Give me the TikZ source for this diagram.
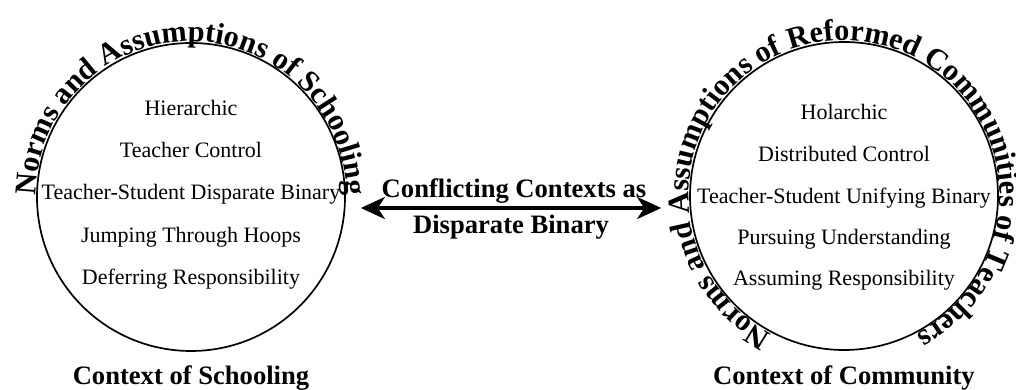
\documentclass[tikz,border=0pt]{standalone}
\usepackage{fontspec}
\setmainfont{Liberation Serif}
\usetikzlibrary{decorations.text, arrows.meta}

\newcommand\itemfont{\fontsize{22}{26}\selectfont}
\newcommand\ctxfont{\fontsize{26.6}{30}\selectfont\bfseries}
\newcommand\ringfont{\fontsize{30.3}{34}\selectfont\bfseries}

\begin{document}
\begin{tikzpicture}[x=1pt,y=1pt,
  ring/.style={circle, draw, line width=1.7pt, minimum size=308pt, inner sep=0pt},
  item/.style={anchor=base, font=\itemfont, inner sep=0pt},
  ctxlabel/.style={anchor=base, font=\ctxfont, inner sep=0pt},
  ringtext/.style={decorate, decoration={text along path, text align=center, text={|\ringfont|#1}}},
  binarrow/.style={{Stealth[length=24pt,width=22pt,inset=7pt]}-{Stealth[length=24pt,width=22pt,inset=7pt]}, line width=3.5pt}
]
\useasboundingbox (0,0) rectangle (1016,390);

% the two contexts
\node[ring] (L) at (191,193) {};
\node[ring] (R) at (844,194) {};

% titles set along the rings
\path[ringtext={Norms and Assumptions of Schooling}]
  ([shift={(195:155.5)}]L.center) arc[start angle=195, end angle=-15, radius=155.5];
\path[ringtext={Norms and Assumptions of Reformed Communities of Teachers}]
  ([shift={(255:155.5)}]R.center) arc[start angle=255, end angle=-75, radius=155.5];

% norms of schooling
\node[item] (l1) at (191,274) {Hierarchic};
\node[item] (l2) at (191,232) {Teacher Control};
\node[item] (l3) at (191,190) {Teacher-Student Disparate Binary};
\node[item] (l4) at (191,147) {Jumping Through Hoops};
\node[item] (l5) at (191,105) {Deferring Responsibility};

% norms of the community
\node[item] (r1) at (844,270) {Holarchic};
\node[item] (r2) at (844,228) {Distributed Control};
\node[item] (r3) at (844,186) {Teacher-Student Unifying Binary};
\node[item] (r4) at (844,145) {Pursuing Understanding};
\node[item] (r5) at (844,104) {Assuming Responsibility};

% captions under the rings
\node[ctxlabel] (Lcap) at (191,5) {Context of Schooling};
\node[ctxlabel] (Rcap) at (844,5) {Context of Community};

% conflict between the two contexts
\coordinate (tipL) at ([xshift=15pt,yshift=-11pt]L.east);
\coordinate (tipR) at ([xshift=-28pt,yshift=-12pt]R.west);
\draw[binarrow] (tipL) -- (tipR);
\node[ctxlabel] (c1) at (514,192) {Conflicting Contexts as};
\node[ctxlabel] (c2) at (511,156) {Disparate Binary};
\end{tikzpicture}
\end{document}
